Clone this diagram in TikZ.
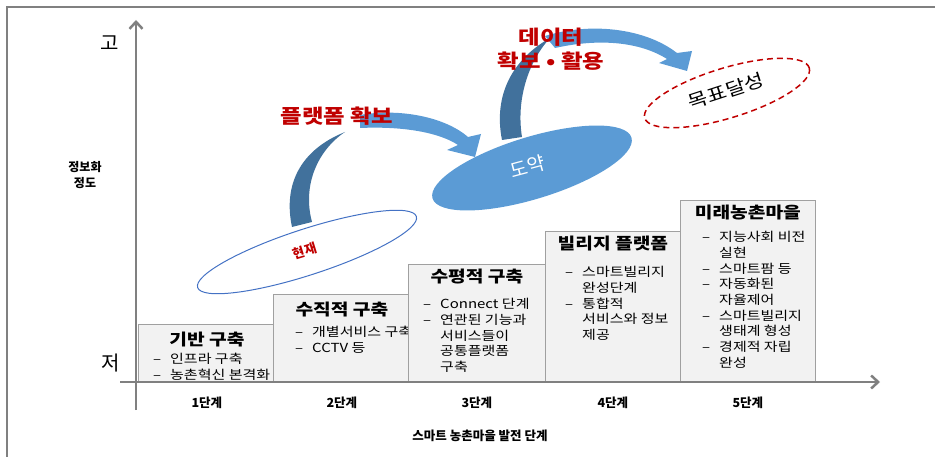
\documentclass[tikz,border=0pt]{standalone}
\usepackage{fontspec}
\setmainfont{Noto Sans CJK KR}
\newfontfamily\widefont[FakeStretch=1.2]{Noto Sans CJK KR}
\usetikzlibrary{arrows.meta}
\definecolor{axisgray}{HTML}{808080}
\definecolor{boxfill}{HTML}{F2F2F2}
\definecolor{boxline}{HTML}{A0A0A0}
\definecolor{arrowlight}{HTML}{5B9BD5}
\definecolor{arrowdark}{HTML}{41719C}
\definecolor{ringblue}{HTML}{4472C4}
\definecolor{textred}{HTML}{C00000}
\def\tiltellipse[#1](#2)(#3:#4:#5){\draw[#1, rotate around={#3:(#2)}] (#2) ellipse [x radius=#4, y radius=#5];}
\newcommand\itm{\makebox[17pt][l]{–}}
\newcommand\cnt{\makebox[17pt][l]{}}
\tikzset{
  stagebox/.style={draw=boxline, fill=boxfill, line width=0.8pt, anchor=south west, inner sep=0},
  boxtitle/.style={font=\widefont\bfseries\fontsize{16}{18}\selectfont, inner sep=0},
  itemlist/.style={font=\widefont\fontsize{12.5}{15.7}\selectfont, anchor=north west, align=left, inner sep=0},
  steplabel/.style={font=\bfseries\fontsize{12.5}{14}\selectfont},
  redlabel/.style={font=\widefont\bfseries\fontsize{19.5}{24}\selectfont, text=textred, align=center},
  axis/.style={draw=axisgray, line width=2.5pt, -{Straight Barb[length=7pt,width=13pt]}}
}

\begin{document}
\begin{tikzpicture}[x=1pt, y=-1pt]
	\useasboundingbox (0,0) rectangle (935,457);
	\draw[axisgray, line width=1.5pt] (7,457) -- (7,7) -- (935,7);
	
	% stage boxes
	\node[stagebox, minimum width=137pt, minimum height=57pt] (s1) at (138,382) {};
	\node[boxtitle] (t1) at ([yshift=-15pt]s1.north) {기반 구축};
	\node[itemlist] (l1) at ([xshift=15pt, yshift=-29pt]s1.north west) {\itm 인프라 구축\\\itm 농촌혁신 본격화};
	
	\node[stagebox, minimum width=137pt, minimum height=87pt] (s2) at (273,382) {};
	\node[boxtitle] (t2) at ([yshift=-15pt]s2.north) {수직적 구축};
	\node[itemlist] (l2) at ([xshift=22pt, yshift=-32pt]s2.north west) {\itm 개별서비스 구축\\\itm CCTV 등};
	
	\node[stagebox, minimum width=137pt, minimum height=117pt] (s3) at (408,382) {};
	\node[boxtitle] (t3) at ([yshift=-12pt]s3.north) {수평적 구축};
	\node[itemlist] (l3) at ([xshift=15pt, yshift=-34pt]s3.north west) {\itm Connect 단계\\\itm 연관된 기능과\\\cnt 서비스들이\\\cnt 공통플랫폼\\\cnt 구축};
	
	\node[stagebox, minimum width=135pt, minimum height=150pt] (s4) at (545,382) {};
	\node[boxtitle] (t4) at ([yshift=-12pt]s4.north) {빌리지 플랫폼};
	\node[itemlist] (l4) at ([xshift=20pt, yshift=-35pt]s4.north west) {\itm 스마트빌리지\\\cnt 완성단계\\\itm 통합적\\\cnt 서비스와 정보\\\cnt 제공};
	
	\node[stagebox, minimum width=135pt, minimum height=181pt] (s5) at (680,382) {};
	\node[boxtitle] (t5) at ([yshift=-12pt]s5.north) {미래농촌마을};
	\node[itemlist] (l5) at ([xshift=22pt, yshift=-31pt]s5.north west) {\itm 지능사회 비전\\\cnt 실현\\\itm 스마트팜 등\\\itm 자동화된\\\cnt 자율제어\\\itm 스마트빌리지\\\cnt 생태계 형성\\\itm 경제적 자립\\\cnt 완성};
	
	% axes
	\draw[axis] (136,410) -- (136,20);
	\draw[axis] (120,382) -- (880,382);
	\node[font=\fontsize{20}{22}\selectfont] (high) at (110,43) {고};
	\node[font=\fontsize{20}{22}\selectfont] (low) at (111,363) {저};
	\node[font=\bfseries\fontsize{12}{16}\selectfont, align=center] (ylab) at (85,175) {정보화\\정도};
	\foreach \i in {1,...,5}
		\node[steplabel] (n\i) at ([yshift=-21pt]s\i.south) {\i 단계};
	\node[steplabel] (xlab) at (480,436) {스마트 농촌마을 발전 단계};
	
	% ellipses
	\tiltellipse[ringblue, line width=1pt](307,252)(18:115:23)
	\tiltellipse[fill=arrowlight, draw=none](532,168)(17:104:31)
	\tiltellipse[textred, line width=1.5pt, dash pattern=on 6pt off 4pt](727,93)(17:86:25)
	\node[rotate=17, text=textred, font=\bfseries\fontsize{13}{15}\selectfont] (now) at (305,251) {현재};
	\node[rotate=15, text=white, font=\fontsize{19}{21}\selectfont] (leap) at (528,167) {도약};
	\node[rotate=18, font=\widefont\fontsize{18}{21}\selectfont] (goal) at (726,91) {목표달성};
	
	% curved arrows
	\fill[arrowdark] (292,227) .. controls (283,185) and (300,150) .. (345,132) .. controls (318,150) and (302,185) .. (312,222) -- cycle;
	\fill[arrowlight] (360,115) .. controls (400,108) and (445,117) .. (468,137) -- (481,134) -- (475,157) -- (447,150) -- (458,145) .. controls (440,133) and (405,126) .. (360,128) -- cycle;
	\fill[arrowdark] (502,140) .. controls (494,100) and (508,62) .. (550,38) .. controls (528,62) and (516,100) .. (522,137) -- cycle;
	\fill[arrowlight] (545,36) .. controls (590,22) and (645,28) .. (677,53) -- (692,51) -- (687,71) -- (659,63) -- (667,59) .. controls (640,42) and (600,38) .. (555,48) -- cycle;
	\node[redlabel] (plat) at (337,116) {플랫폼 확보};
	\node[redlabel] (data) at (551,49) {데이터\\확보 • 활용};
\end{tikzpicture}
\end{document}
